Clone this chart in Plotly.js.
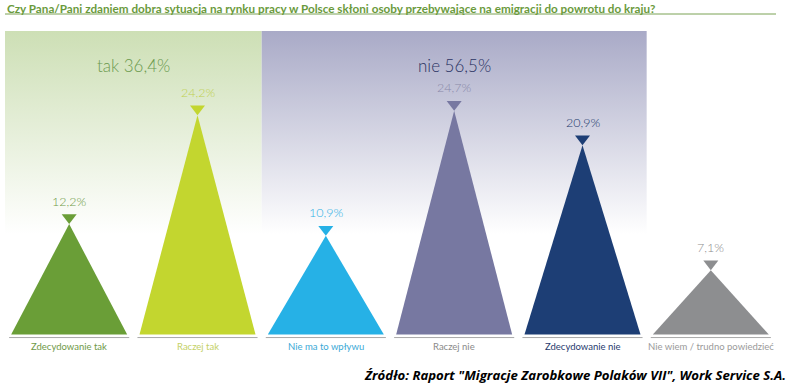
<!DOCTYPE html>
<html>
<head>
<meta charset="utf-8">
<script src="https://cdn.plot.ly/plotly-3.0.1.min.js"></script>
<style>html,body{margin:0;padding:0;background:#fff;}#chart{width:792px;height:390px;}</style>
</head>
<body>
<div id="chart"></div>
<script>
// ---- data ----
const categories = ["Zdecydowanie tak", "Raczej tak", "Nie ma to wpływu", "Raczej nie", "Zdecydowanie nie", "Nie wiem / trudno powiedzieć"];
const values = [12.2, 24.2, 10.9, 24.7, 20.9, 7.1];
const valueLabels = ["12,2%", "24,2%", "10,9%", "24,7%", "20,9%", "7,1%"];
const groupNames = ["tak 36,4%", "nie 56,5%"];
const groupStart = [0, 2];   // first category index of group
const groupEnd = [1, 4];     // last category index of group
const titleText = "Czy Pana/Pani zdaniem dobra sytuacja na rynku pracy w Polsce skłoni osoby przebywające na emigracji do powrotu do kraju?";
const sourceText = "Źródło: Raport \"Migracje Zarobkowe Polaków VII\", Work Service S.A.";

// ---- styles ----
const triColors = ['#6a9e37', '#c3d62f', '#26b1e6', '#7778a1', '#1d3e75', '#8d8e90'];
const valColors = ['#6f9a48', '#bfd150', '#2eb0e4', '#8a8aaa', '#1f3b6e', '#8d8d8d'];
const catColors = ['#6f9a48', '#c4d166', '#3aa9d6', '#8a8a8a', '#1f3b6e', '#9a9a9a'];
const groupFill = ['#cddfb5', '#a9aac7'];
const groupText = ['#6b9a4e', '#2b3463'];

const W = 792, H = 390, mL = 5, mR = 17, mT = 31, mB = 50;
const yMin = -0.6, yMax = 33.5;
const pxPerUnit = (H - mT - mB) / (yMax - yMin);
const halfW = 0.452, lineHalf = 0.468;
const markerSize = 13;
const markerOffset = (markerSize / 2) / pxPerUnit;

const traces = [];
// group background panels with vertical gradient
for (let g = 0; g < groupNames.length; g++) {
  const x0 = groupStart[g] - 0.5, x1 = groupEnd[g] + 0.5;
  traces.push({
    type: 'scatter', mode: 'none', x: [x0, x1, x1, x0, x0], y: [0, 0, yMax, yMax, 0],
    fill: 'toself', fillcolor: groupFill[g],
    fillgradient: {type: 'vertical', colorscale: [[0, '#ffffff'], [0.33, '#ffffff'], [1, groupFill[g]]]},
    hoverinfo: 'skip', showlegend: false
  });
}
// triangles
for (let i = 0; i < categories.length; i++) {
  traces.push({
    type: 'scatter', mode: 'none', x: [i - halfW, i, i + halfW, i - halfW], y: [0, values[i], 0, 0],
    fill: 'toself', fillcolor: triColors[i], line: {width: 0}, hoverinfo: 'skip', showlegend: false
  });
}
// apex markers
traces.push({
  type: 'scatter', mode: 'markers', x: categories.map((c, i) => i), y: values.map(v => v + markerOffset),
  marker: {symbol: 'triangle-down', size: markerSize, color: triColors, line: {width: 0}},
  hoverinfo: 'skip', showlegend: false, cliponaxis: false
});
// base lines
const bx = [], by = [];
for (let i = 0; i < categories.length; i++) { bx.push(i - lineHalf, i + lineHalf, null); by.push(-0.33, -0.33, null); }
traces.push({type: 'scatter', mode: 'lines', x: bx, y: by, line: {color: '#a8a8a8', width: 1}, hoverinfo: 'skip', showlegend: false, cliponaxis: false});

const annotations = [];
for (let i = 0; i < categories.length; i++) {
  annotations.push({x: i, y: values[i], xref: 'x', yref: 'y', text: valueLabels[i], showarrow: false,
    yshift: 23, font: {family: 'Lato, sans-serif', size: 12.5, weight: 300, color: valColors[i]}});
  annotations.push({x: i, y: 0, xref: 'x', yref: 'y', text: categories[i], showarrow: false,
    yshift: -12, font: {family: 'Lato, sans-serif', size: 9.5, color: catColors[i]}});
}
for (let g = 0; g < groupNames.length; g++) {
  annotations.push({x: (groupStart[g] + groupEnd[g]) / 2, y: 1, xref: 'x', yref: 'paper', text: groupNames[g],
    showarrow: false, yshift: -22, font: {family: 'Lato, sans-serif', size: 17, weight: 300, color: groupText[g]}});
}
annotations.push({x: 0, y: 1, xref: 'paper', yref: 'paper', xanchor: 'left', yanchor: 'middle', yshift: 23,
  text: '<b>' + titleText + '</b>', showarrow: false, font: {family: 'Lato, sans-serif', size: 11.7, color: '#6a9a3c'}});
annotations.push({x: (W - 4 - mL) / (W - mL - mR), y: 0, xref: 'paper', yref: 'paper', xanchor: 'right', yanchor: 'middle',
  yshift: -35, text: '<b><i>' + sourceText + '</i></b>', showarrow: false, font: {family: '"Open Sans", sans-serif', size: 13.2, color: '#000'}});

const layout = {
  width: W, height: H, margin: {l: mL, r: mR, t: mT, b: mB},
  paper_bgcolor: '#fff', plot_bgcolor: '#fff',
  xaxis: {range: [-0.5, 5.5], visible: false, fixedrange: true},
  yaxis: {range: [yMin, yMax], visible: false, fixedrange: true},
  showlegend: false, annotations: annotations,
  shapes: [{type: 'line', xref: 'paper', yref: 'paper', x0: 0, x1: (776 - mL) / (W - mL - mR),
    y0: 1 + (mT - 14) / (H - mT - mB), y1: 1 + (mT - 14) / (H - mT - mB), line: {color: '#7aa255', width: 1}}]
};
Plotly.newPlot('chart', traces, layout, {staticPlot: true, displayModeBar: false});
</script>
</body>
</html>
